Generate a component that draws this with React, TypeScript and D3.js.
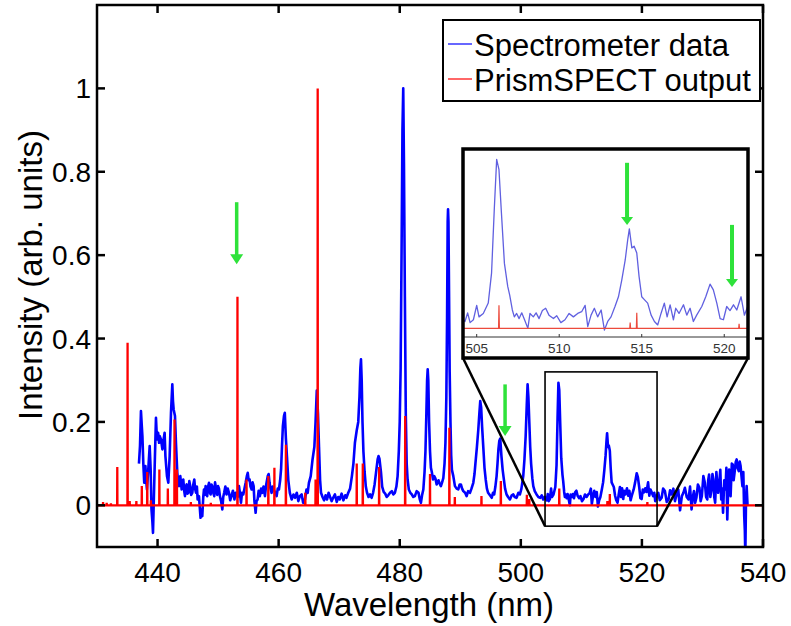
import React from 'react';
import * as d3 from 'd3';

// ---------- data ----------
const xTicks = [440, 460, 480, 500, 520, 540];
const yTicks = [0, 0.2, 0.4, 0.6, 0.8, 1];
const yTickLabels = ['0', '0.2', '0.4', '0.6', '0.8', '1'];
const insetTicks = [505, 510, 515, 520];

// Spectrometer data (wavelength nm, intensity)
const blueA: [number, number][] = [
  [436.93, 0.1], [437.1, 0.142], [437.26, 0.226], [437.4, 0.19], [437.5, 0.166], [437.65, 0.1], [437.8, 0.054],
  [438.0, 0.094], [438.12, 0.06], [438.25, 0.038], [438.47, 0.086], [438.7, 0.142], [438.86, 0.086], [439.0, -0.01],
  [439.15, -0.04], [439.25, -0.066], [439.4, 0.022], [439.57, 0.118], [439.74, 0.21], [439.9, 0.158], [440.1, 0.174],
  [440.25, 0.15], [440.35, 0.166], [440.57, 0.158], [440.8, 0.134], [441.0, 0.158], [441.17, 0.174], [441.3, 0.118],
  [441.45, 0.09], [441.56, 0.07], [441.78, 0.054], [442.0, 0.118], [442.22, 0.222], [442.44, 0.29], [442.55, 0.25],
  [442.66, 0.23], [442.88, 0.214], [443.04, 0.15], [443.26, 0.078], [443.4, 0.06], [443.54, 0.046], [443.76, 0.07],
  [443.98, 0.038], [444.1, 0.055], [444.25, 0.062], [444.4, 0.035], [444.53, 0.022], [444.65, 0.045], [444.8, 0.05],
  [444.95, 0.028], [445.08, 0.03], [445.25, 0.058], [445.4, 0.046], [445.55, 0.025], [445.74, 0.03], [445.9, 0.05],
  [446.07, 0.062], [446.2, 0.04], [446.35, 0.03], [446.5, 0.045], [446.62, 0.014], [446.84, 0.022], [446.95, 0.0],
  [447.1, -0.03], [447.25, -0.01], [447.39, -0.026], [447.55, 0.02], [447.67, 0.038], [447.8, 0.025], [447.94, 0.046],
  [448.05, 0.03], [448.2, 0.022], [448.35, 0.045], [448.5, 0.054], [448.65, 0.03], [448.77, 0.026], [448.9, 0.05],
  [449.04, 0.046], [449.2, 0.03], [449.37, 0.022], [449.5, 0.055], [449.7, 0.038], [449.85, 0.025], [450.0, 0.046],
  [450.15, 0.04], [450.3, 0.022], [450.5, 0.01], [450.7, -0.01], [450.85, 0.02], [451.0, 0.03], [451.2, 0.045],
  [451.4, 0.026], [451.6, 0.04], [451.8, 0.03], [452.0, 0.012], [452.2, 0.022], [452.45, 0.035], [452.7, 0.014],
  [452.9, 0.03], [453.06, 0.03], [453.25, 0.02], [453.45, 0.046], [453.6, 0.03], [453.78, 0.006], [453.95, 0.03],
  [454.16, 0.026], [454.35, 0.04], [454.55, 0.054], [454.75, 0.07], [454.9, 0.078], [455.05, 0.06], [455.2, 0.062],
  [455.35, 0.045], [455.54, 0.038], [455.7, 0.055], [455.87, 0.046], [456.0, 0.01], [456.2, -0.018], [456.35, 0.01],
  [456.53, 0.014], [456.7, 0.035], [456.9, 0.022], [457.1, 0.04], [457.3, 0.03], [457.5, 0.045], [457.74, 0.022],
  [457.95, 0.05], [458.2, 0.07], [458.35, 0.075], [458.5, 0.054], [458.65, 0.04], [458.84, 0.03], [459.0, 0.045],
  [459.2, 0.038], [459.45, 0.03], [459.67, 0.022], [459.85, 0.04], [460.05, 0.038], [460.25, 0.06], [460.4, 0.086],
  [460.55, 0.14], [460.7, 0.19], [460.88, 0.214], [461.02, 0.222], [461.2, 0.16], [461.37, 0.118], [461.6, 0.06],
];

const blueB: [number, number][] = [
  [461.85, 0.03], [462.15, 0.014], [462.45, 0.026], [462.7, 0.018], [463.0, 0.03], [463.25, 0.01], [463.5, 0.022],
  [463.8, 0.026], [464.05, 0.006], [464.35, 0.014], [464.6, 0.038], [464.8, 0.03], [465.0, 0.054], [465.3, 0.07],
  [465.6, 0.11], [465.9, 0.14], [466.1, 0.2], [466.3, 0.275], [466.5, 0.22], [466.67, 0.14], [466.85, 0.06],
  [467.0, 0.03], [467.25, 0.02], [467.5, 0.012], [467.75, 0.024], [468.0, 0.014], [468.25, 0.03], [468.5, 0.02],
  [468.75, 0.01], [469.0, 0.018], [469.3, 0.026], [469.6, 0.008], [469.85, 0.02], [470.1, 0.014], [470.4, 0.028],
  [470.7, 0.012], [471.0, 0.024], [471.2, 0.018], [471.5, 0.03], [471.8, 0.04], [472.1, 0.07], [472.35, 0.1],
  [472.6, 0.15], [472.9, 0.18], [473.15, 0.2], [473.35, 0.26], [473.5, 0.33], [473.6, 0.35], [473.72, 0.3],
  [473.85, 0.2], [474.0, 0.13], [474.2, 0.08], [474.4, 0.045], [474.6, 0.03], [474.85, 0.02], [475.1, 0.026],
  [475.35, 0.018], [475.6, 0.03], [475.85, 0.05], [476.1, 0.08], [476.35, 0.11], [476.5, 0.118], [476.65, 0.112],
  [476.9, 0.08], [477.1, 0.045], [477.35, 0.032], [477.6, 0.028], [477.85, 0.02], [478.1, 0.024], [478.4, 0.03],
  [478.7, 0.034], [478.95, 0.026], [479.2, 0.03], [479.45, 0.045], [479.65, 0.07], [479.85, 0.13], [480.0, 0.2],
  [480.15, 0.33], [480.3, 0.6], [480.45, 0.9], [480.58, 1.0], [480.7, 0.82], [480.85, 0.5], [481.0, 0.22],
  [481.15, 0.1], [481.3, 0.062], [481.5, 0.038], [481.75, 0.03], [482.0, 0.026], [482.25, 0.02], [482.5, 0.022],
  [482.8, 0.034], [483.1, 0.03], [483.3, 0.015], [483.5, 0.006], [483.7, 0.025], [483.9, 0.038], [484.1, 0.08],
  [484.25, 0.13], [484.4, 0.22], [484.52, 0.3], [484.62, 0.326], [484.72, 0.3], [484.85, 0.2], [485.0, 0.13],
  [485.15, 0.09], [485.3, 0.08], [485.5, 0.062], [485.7, 0.07], [485.9, 0.064], [486.1, 0.05], [486.4, 0.06],
  [486.6, 0.052], [486.8, 0.046], [487.0, 0.055], [487.2, 0.065], [487.4, 0.1], [487.55, 0.15], [487.7, 0.26],
  [487.82, 0.45], [487.92, 0.68], [487.98, 0.71], [488.05, 0.68], [488.15, 0.5], [488.25, 0.32], [488.38, 0.2],
  [488.5, 0.12], [488.62, 0.085], [488.85, 0.07], [489.12, 0.046], [489.4, 0.04], [489.67, 0.038], [489.9, 0.05],
  [490.1, 0.05], [490.3, 0.04],
];

const blueC: [number, number][] = [
  [490.5, 0.034], [490.8, 0.03], [491.05, 0.022], [491.3, 0.034], [491.6, 0.03], [491.85, 0.04], [492.15, 0.054],
  [492.35, 0.075], [492.5, 0.1], [492.75, 0.14], [492.97, 0.18], [493.15, 0.22], [493.3, 0.25], [493.45, 0.235],
  [493.6, 0.19], [493.8, 0.14], [494.0, 0.09], [494.2, 0.062], [494.4, 0.04], [494.6, 0.03], [494.9, 0.024],
  [495.2, 0.018], [495.4, 0.03], [495.6, 0.026], [495.8, 0.045], [496.0, 0.07], [496.15, 0.1], [496.3, 0.134],
  [496.45, 0.155], [496.6, 0.16], [496.8, 0.118], [497.0, 0.085], [497.2, 0.062], [497.4, 0.04], [497.65, 0.026],
  [497.9, 0.02], [498.2, 0.014], [498.5, 0.024], [498.75, 0.026], [499.0, 0.02], [499.3, 0.018], [499.6, 0.03],
  [499.85, 0.026], [500.1, 0.04], [500.4, 0.07], [500.6, 0.11], [500.8, 0.166], [500.98, 0.24], [501.12, 0.29],
  [501.25, 0.26], [501.4, 0.2], [501.55, 0.14], [501.7, 0.1], [501.9, 0.065], [502.06, 0.046], [502.3, 0.034],
  [502.6, 0.026], [502.9, 0.02], [503.2, 0.018], [503.45, 0.024], [503.7, 0.014], [503.95, 0.02], [504.15, 0.016],
];

const blueD: [number, number][] = [
  [504.29, 0.012], [504.45, 0.027], [504.6, 0.01], [504.8, 0.015], [505.0, 0.04], [505.14, 0.02], [505.4, 0.026],
  [505.7, 0.044], [505.9, 0.096], [506.07, 0.21], [506.21, 0.294], [506.35, 0.276], [506.5, 0.2], [506.68, 0.113],
  [506.88, 0.073], [507.0, 0.058], [507.16, 0.032], [507.28, 0.02], [507.42, 0.026], [507.57, 0.017], [507.73, 0.027],
  [507.9, 0.015], [508.1, 0.0], [508.23, 0.026], [508.43, 0.02], [508.6, 0.027], [508.78, 0.017], [508.98, 0.031],
  [509.18, 0.035], [509.38, 0.023], [509.65, 0.017], [509.85, 0.022], [510.1, 0.01], [510.35, 0.015], [510.6, 0.026],
  [510.86, 0.02], [511.12, 0.026], [511.36, 0.029], [511.57, 0.04], [511.73, 0.003], [511.93, 0.023], [512.13, 0.035],
  [512.33, 0.02], [512.54, 0.032], [512.74, -0.003], [512.94, 0.012], [513.14, 0.02], [513.38, 0.038], [513.59, 0.055],
  [513.79, 0.084], [514.0, 0.119], [514.15, 0.154], [514.25, 0.173], [514.4, 0.14], [514.54, 0.143], [514.7, 0.131],
  [514.84, 0.09], [515.0, 0.055], [515.16, 0.05], [515.36, 0.044], [515.57, 0.023], [515.77, 0.012], [515.97, 0.006],
  [516.17, 0.026], [516.37, 0.044], [516.54, 0.02], [516.72, 0.041], [516.92, 0.015], [517.06, 0.035], [517.26, 0.026],
  [517.53, 0.041], [517.73, 0.023], [517.93, 0.035], [518.13, 0.012], [518.33, 0.023], [518.64, 0.038], [518.88, 0.055],
  [519.14, 0.077], [519.34, 0.067], [519.55, 0.044], [519.75, 0.017], [519.95, 0.015], [520.15, 0.038], [520.35, 0.031],
  [520.56, 0.041], [520.76, 0.032], [521.02, 0.055], [521.22, 0.023], [521.42, 0.038],
];

const blueE: [number, number][] = [
  [521.65, 0.03], [521.85, 0.022], [522.05, 0.03], [522.2, 0.01], [522.45, 0.024], [522.7, 0.03], [522.95, 0.012],
  [523.26, 0.018], [523.5, 0.04], [523.8, 0.034], [524.1, 0.008], [524.4, 0.014], [524.65, 0.036], [524.9, 0.026],
  [525.2, 0.04], [525.46, 0.01], [525.75, 0.028], [526.0, 0.038], [526.3, -0.012], [526.6, 0.022], [526.85, 0.03],
  [527.1, 0.042], [527.4, 0.02], [527.7, 0.014], [527.95, 0.045], [528.2, -0.01], [528.4, 0.02], [528.6, 0.034],
  [528.8, 0.006], [529.0, 0.018], [529.25, 0.05], [529.5, 0.042], [529.7, 0.01], [529.9, 0.022], [530.15, 0.07],
  [530.4, 0.054], [530.6, 0.02], [530.8, 0.014], [530.95, 0.06], [531.1, 0.074], [531.3, 0.02], [531.5, 0.038],
  [531.65, 0.075], [531.8, 0.062], [531.95, 0.02], [532.1, 0.006], [532.3, 0.08], [532.45, 0.05], [532.6, 0.03],
  [532.8, 0.058], [532.95, 0.085], [533.1, 0.014], [533.25, 0.04], [533.4, -0.018], [533.6, 0.06], [533.8, 0.038],
  [533.95, 0.09], [534.1, -0.034], [534.25, 0.04], [534.4, 0.086], [534.55, 0.05], [534.65, 0.022], [534.85, 0.1],
  [535.0, 0.098], [535.15, 0.06], [535.3, 0.078], [535.5, 0.104], [535.65, 0.11], [535.8, 0.09], [536.0, 0.082],
  [536.15, 0.105], [536.3, 0.094], [536.45, 0.07], [536.6, 0.046], [536.75, 0.08], [536.9, -0.026], [537.0, -0.06],
  [537.08, -0.12], [537.2, 0.02], [537.3, 0.046], [537.45, -0.002],
];

// PrismSPECT output: line positions (nm) and heights
const redLines: [number, number][] = [
  [431.0, 0.008], [431.6, 0.006], [432.3, 0.005], [433.35, 0.092], [435.05, 0.39], [435.4, 0.01], [436.5, 0.01],
  [437.4, 0.046], [438.3, 0.08], [438.9, 0.012], [440.3, 0.086], [441.7, 0.04], [442.8, 0.206], [443.2, 0.086],
  [445.5, 0.008], [448.8, 0.006], [453.2, 0.5], [454.7, 0.062], [458.3, 0.07], [459.3, 0.09], [461.2, 0.145],
  [464.4, 0.03], [466.1, 0.062], [466.45, 1.0], [472.9, 0.1], [473.9, 0.1], [476.6, 0.092], [480.9, 0.214],
  [485.0, 0.075], [488.2, 0.186], [489.1, 0.02], [493.5, 0.022], [496.7, 0.058], [501.0, 0.025], [501.4, 0.015],
  [506.35, 0.04], [514.3, 0.01], [514.7, 0.027], [520.9, 0.008],
];

// annotations: [wavelength, start value, tip value]
const arrowsMain: [number, number, number][] = [[453.07, 0.727, 0.578], [497.4, 0.29, 0.166]];
const arrowsInset: [number, number, number][] = [[514.11, 0.288, 0.18], [520.47, 0.18, 0.072]];
const zoomRangeX = [504, 522.5];
const zoomRangeY = [-0.05, 0.32];
const insetDomainX = [504.17, 521.44];
const insetDomainY = [-0.015, 0.312];

const legendItems = [
  { label: 'Spectrometer data', color: '#0000ff' },
  { label: 'PrismSPECT output', color: '#ff0000' },
];

// ---------- layout ----------
const W = 791, H = 626;
const M = { left: 97, right: 763, top: 5, bottom: 547 };
const INS = { left: 463, right: 748, top: 149, bottom: 358, axis: 337 };
const FONT = '"Liberation Sans", Arial, Helvetica, sans-serif';
const GREEN = '#2ee23a';

export default function App() {
  const blue = [...blueA, ...blueB, ...blueC, ...blueD, ...blueE];
  const redPts: [number, number][] = [[430, 0]];
  redLines.forEach(([l, h]) => {
    redPts.push([l - 0.025, 0], [l, h], [l + 0.025, 0]);
  });
  redPts.push([540, 0]);

  const x = d3.scaleLinear().domain([430, 540]).range([M.left, M.right]);
  const y = d3.scaleLinear().domain([-0.1, 1.2]).range([M.bottom, M.top]);
  const xi = d3.scaleLinear().domain(insetDomainX).range([INS.left, INS.right]);
  const yi = d3.scaleLinear().domain(insetDomainY).range([INS.axis, INS.top]);

  const lineMain = d3.line<[number, number]>().x(d => x(d[0])).y(d => y(d[1]));
  const lineInset = d3.line<[number, number]>().x(d => xi(d[0])).y(d => yi(d[1]));

  const rx0 = x(zoomRangeX[0]), rx1 = x(zoomRangeX[1]);
  const ry0 = y(zoomRangeY[1]), ry1 = y(zoomRangeY[0]);

  const arrow = (cx: number, yTop: number, yTip: number, key: string, hw = 6.5, hl = 10, sw = 3.5) => (
    <g key={key}>
      <line x1={cx} x2={cx} y1={yTop} y2={yTip - hl + 1} stroke={GREEN} strokeWidth={sw} />
      <path d={`M${cx - hw},${yTip - hl} L${cx + hw},${yTip - hl} L${cx},${yTip} Z`} fill={GREEN} />
    </g>
  );

  const tickLen = 8;

  return (
    <svg width={W} height={H} style={{ position: 'absolute', left: 0, top: 0, background: '#fff' }}
      fontFamily={FONT}>
      <defs>
        <clipPath id="mainClip">
          <rect x={M.left} y={M.top} width={M.right - M.left} height={M.bottom - M.top} />
        </clipPath>
        <clipPath id="insetClip">
          <rect x={INS.left} y={INS.top} width={INS.right - INS.left} height={INS.axis - INS.top} />
        </clipPath>
      </defs>
      <rect x={0} y={0} width={W} height={H} fill="#fff" />

      {/* data */}
      <g clipPath="url(#mainClip)">
        <path d={lineMain(blue) || ''} fill="none" stroke="#0000ff" strokeWidth={2.6} strokeLinejoin="round" />
        <path d={lineMain(redPts) || ''} fill="none" stroke="#ff0000" strokeWidth={2.3} strokeLinejoin="miter" />
      </g>

      {/* zoom rectangle and connectors */}
      <rect x={rx0} y={ry0} width={rx1 - rx0} height={ry1 - ry0} fill="none" stroke="#000" strokeWidth={1.6} />
      <line x1={rx0} y1={ry1} x2={INS.left} y2={INS.bottom} stroke="#000" strokeWidth={2.5} />
      <line x1={rx1} y1={ry1} x2={INS.right} y2={INS.bottom} stroke="#000" strokeWidth={2.5} />

      {/* main arrows */}
      {arrowsMain.map(([l, v0, v1], i) => arrow(x(l), y(v0), y(v1), 'am' + i))}

      {/* axes box */}
      <rect x={M.left} y={M.top} width={M.right - M.left} height={M.bottom - M.top} fill="none" stroke="#000" strokeWidth={2.5} />
      {xTicks.map(t => (
        <g key={'xt' + t}>
          <line x1={x(t)} x2={x(t)} y1={M.bottom} y2={M.bottom - tickLen} stroke="#000" strokeWidth={2.5} />
          <line x1={x(t)} x2={x(t)} y1={M.top} y2={M.top + tickLen} stroke="#000" strokeWidth={2.5} />
          <text x={x(t)} y={582} fontSize={28} textAnchor="middle" fill="#000">{t}</text>
        </g>
      ))}
      {yTicks.map((t, i) => (
        <g key={'yt' + t}>
          <line x1={M.left} x2={M.left + tickLen} y1={y(t)} y2={y(t)} stroke="#000" strokeWidth={2.5} />
          <line x1={M.right} x2={M.right - tickLen} y1={y(t)} y2={y(t)} stroke="#000" strokeWidth={2.5} />
          <text x={91} y={y(t) + 10} fontSize={28} textAnchor="end" fill="#000">{yTickLabels[i]}</text>
        </g>
      ))}
      <text x={429} y={616} fontSize={33} textAnchor="middle" fill="#000">Wavelength (nm)</text>
      <text transform="translate(42,275) rotate(-90)" fontSize={33} textAnchor="middle" fill="#000">Intensity (arb. units)</text>

      {/* inset */}
      <rect x={INS.left} y={INS.top} width={INS.right - INS.left} height={INS.bottom - INS.top} fill="#fff" stroke="none" />
      <g clipPath="url(#insetClip)">
        <path d={lineInset(blue) || ''} fill="none" stroke="#6060e0" strokeWidth={1.3} strokeLinejoin="round" />
        <path d={lineInset(redPts) || ''} fill="none" stroke="#ec4a3c" strokeWidth={1.2} />
      </g>
      <line x1={INS.left} x2={INS.right} y1={INS.axis} y2={INS.axis} stroke="#333" strokeWidth={1} />
      {insetTicks.map(t => (
        <g key={'it' + t}>
          <line x1={xi(t)} x2={xi(t)} y1={INS.axis} y2={INS.axis - 3} stroke="#333" strokeWidth={1} />
          <text x={xi(t)} y={353} fontSize={13.5} textAnchor="middle" fill="#333">{t}</text>
        </g>
      ))}
      {arrowsInset.map(([l, v0, v1], i) => arrow(xi(l), yi(v0), yi(v1), 'ai' + i, 6, 8, 4))}
      <rect x={INS.left} y={INS.top} width={INS.right - INS.left} height={INS.bottom - INS.top} fill="none" stroke="#000" strokeWidth={3.5} />

      {/* legend */}
      <rect x={443} y={20} width={317} height={81} fill="#fff" stroke="#000" strokeWidth={2} />
      {legendItems.map((it, i) => (
        <g key={it.label}>
          <line x1={448} x2={472} y1={44 + i * 35} y2={44 + i * 35} stroke={it.color} strokeWidth={1.2} />
          <text x={474} y={56 + i * 35} fontSize={31} fill="#000">{it.label}</text>
        </g>
      ))}
    </svg>
  );
}
